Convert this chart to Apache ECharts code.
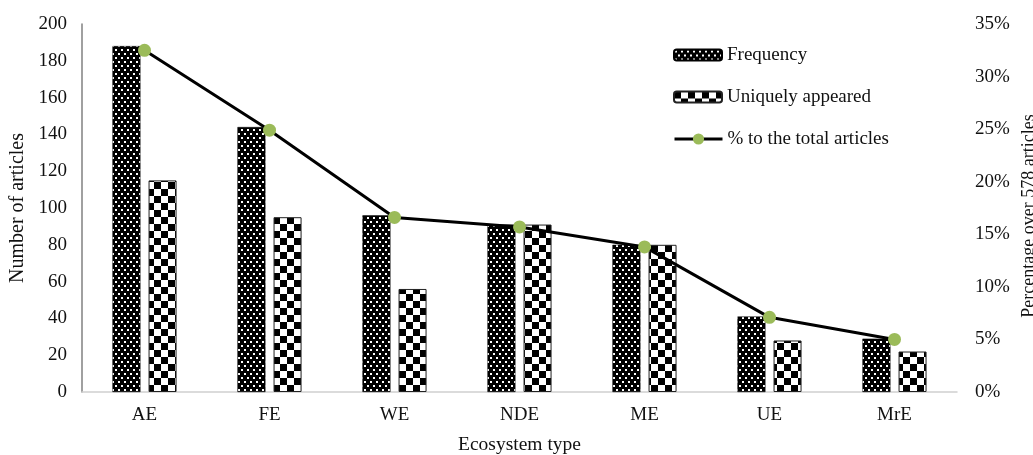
<!DOCTYPE html>
<html>
<head>
<meta charset="utf-8">
<script src="https://cdn.jsdelivr.net/npm/echarts@6/dist/echarts.min.js"></script>
<style>
html,body{margin:0;padding:0;background:#fff;}
#c{width:1033px;height:455px;}
</style>
</head>
<body>
<div id="c"></div>
<script>
const categories = ['AE', 'FE', 'WE', 'NDE', 'ME', 'UE', 'MrE'];
const frequency = [188, 144, 96, 91, 80, 41, 29];
const uniquelyAppeared = [115, 95, 56, 91, 80, 28, 22];
const percentTotal = [32.5, 24.9, 16.6, 15.7, 13.8, 7.1, 5.0];
const seriesNames = ['Frequency', 'Uniquely appeared', '% to the total articles'];
const rightAxisTitle = 'Percentage over 578 articles';

function dotPattern() {
  const c = document.createElement('canvas');
  c.width = 6; c.height = 8;
  const g = c.getContext('2d');
  g.fillStyle = '#000'; g.fillRect(0, 0, 6, 8);
  g.fillStyle = '#fff';
  g.fillRect(1, 1, 2, 2);
  g.fillRect(4, 5, 2, 2);
  return c;
}
function checkPattern() {
  const c = document.createElement('canvas');
  c.width = 14; c.height = 14;
  const g = c.getContext('2d');
  g.fillStyle = '#fff'; g.fillRect(0, 0, 14, 14);
  g.fillStyle = '#000';
  g.fillRect(0, 0, 7, 7);
  g.fillRect(7, 7, 7, 7);
  return c;
}

const font = 'Liberation Serif';
const txt = '#111';
const legendText = {fontFamily: font, fontSize: 19, color: txt, lineHeight: 20};
const chart = echarts.init(document.getElementById('c'), null, {renderer: 'canvas'});
chart.setOption({
  animation: false,
  textStyle: {fontFamily: font},
  grid: {left: 82, right: 76, top: 24, bottom: 63, outerBoundsMode: 'none', containLabel: false},
  legend: [{
    orient: 'vertical', left: 668, top: 40,
    itemWidth: 48, itemHeight: 11, itemGap: 22,
    textStyle: legendText,
    data: [seriesNames[0], seriesNames[1]]
  }, {
    orient: 'vertical', left: 668, top: 124,
    itemWidth: 48, itemHeight: 14,
    textStyle: legendText,
    lineStyle: {width: 3, color: '#000'},
    data: [seriesNames[2]]
  }],
  graphic: [{
    type: 'text', x: 1029, y: 216, rotation: Math.PI / 2,
    style: {text: rightAxisTitle, fontFamily: font, fontSize: 18, fill: txt, align: 'center', verticalAlign: 'middle'}
  }],
  xAxis: {
    type: 'category', data: categories,
    name: 'Ecosystem type', nameLocation: 'middle', nameGap: 43,
    nameTextStyle: {fontFamily: font, fontSize: 19.5, color: txt},
    axisLine: {lineStyle: {color: '#d0d0d0', width: 1.5}},
    axisTick: {show: false},
    axisLabel: {fontFamily: font, fontSize: 19, color: txt, margin: 14}
  },
  yAxis: [{
    type: 'value', min: 0, max: 200, interval: 20,
    name: 'Number of articles', nameLocation: 'middle', nameGap: 54,
    nameTextStyle: {fontFamily: font, fontSize: 20, color: txt},
    axisLine: {show: true, lineStyle: {color: '#808080', width: 1.5}},
    axisTick: {show: false}, splitLine: {show: false},
    axisLabel: {fontFamily: font, fontSize: 19, color: txt, margin: 15}
  }, {
    type: 'value', min: 0, max: 35, interval: 5,
    axisLine: {show: false}, axisTick: {show: false}, splitLine: {show: false},
    axisLabel: {fontFamily: font, fontSize: 19, color: txt, margin: 18, formatter: '{value}%'}
  }],
  series: [{
    name: seriesNames[0], type: 'bar', data: frequency,
    barWidth: 28, barGap: '29%',
    itemStyle: {color: {image: dotPattern(), repeat: 'repeat'}, borderColor: '#000', borderWidth: 0.5}
  }, {
    name: seriesNames[1], type: 'bar', data: uniquelyAppeared,
    barWidth: 28,
    itemStyle: {color: {image: checkPattern(), repeat: 'repeat'}, borderColor: '#222', borderWidth: 1}
  }, {
    name: seriesNames[2], type: 'line', yAxisIndex: 1, data: percentTotal,
    symbol: 'circle', symbolSize: 13, z: 5,
    lineStyle: {color: '#000', width: 3},
    itemStyle: {color: '#9BBB59', borderWidth: 0}
  }]
});
</script>
</body>
</html>
